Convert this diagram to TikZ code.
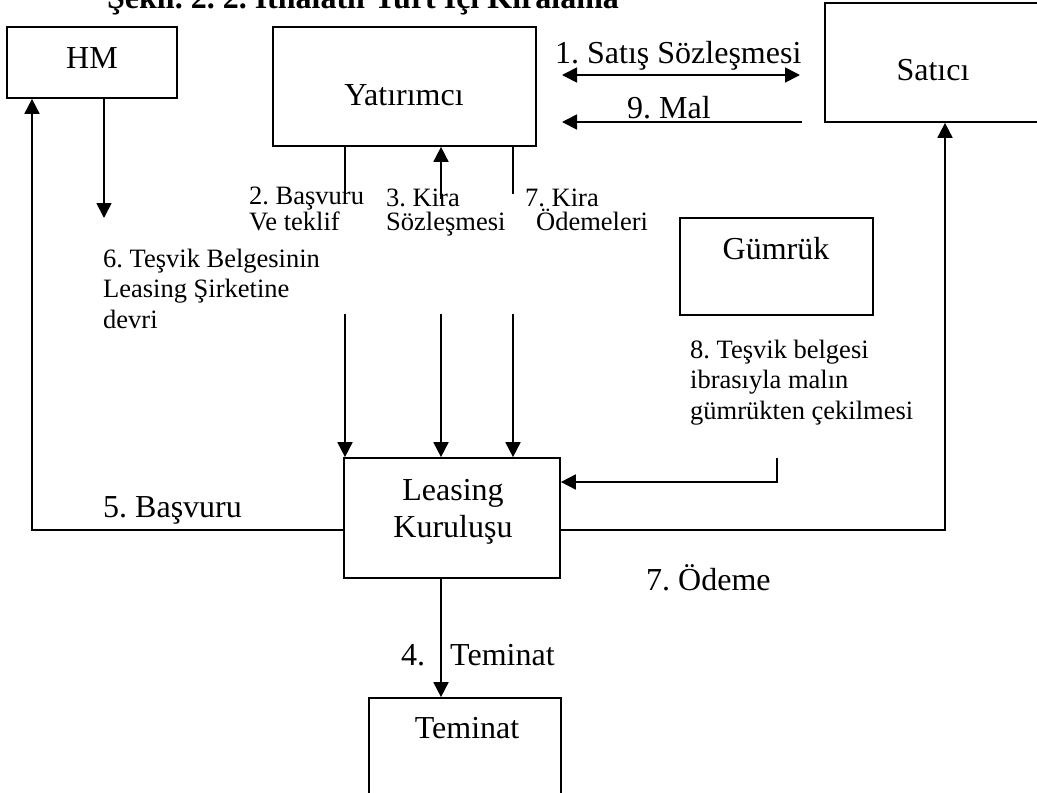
\documentclass[tikz,border=0pt]{standalone}
\usepackage{fontspec}
\setmainfont{Liberation Serif}
\frenchspacing
\usetikzlibrary{arrows.meta}
\tikzset{
  box/.style={draw, line width=1.7pt, inner sep=0pt},
  ln/.style={line width=1.7pt},
  arr/.style={line width=1.7pt, -{Triangle[length=15pt,width=15pt]}},
  dbl/.style={line width=1.7pt, {Triangle[length=15pt,width=15pt]}-{Triangle[length=15pt,width=15pt]}},
  bigtext/.style={font=\fontsize{32}{37}\selectfont, inner sep=0pt},
  smalltext/.style={font=\fontsize{26.5}{30.8}\selectfont, align=left, inner sep=0pt},
  tighttext/.style={font=\fontsize{26.5}{24}\selectfont, align=left, inner sep=0pt}
}
\begin{document}
\begin{tikzpicture}[x=1pt,y=-1pt]
\useasboundingbox (0,0) rectangle (1037,793);
\clip (0,0) rectangle (1037,793);
\node[anchor=base west, inner sep=0pt, font=\fontsize{32}{37}\selectfont\bfseries] (title) at (107,8) {Şekil. 2. 2. İthalatlı Yurt İçi Kiralama};
% boxes
\node[box, minimum width=170pt, minimum height=71pt] (hm) at (92,62.5) {};
\node[box, minimum width=263pt, minimum height=119pt] (yat) at (404.5,86.5) {};
\node[box, minimum width=220pt, minimum height=119pt] (sat) at (935,62.5) {};
\node[box, minimum width=193pt, minimum height=97pt] (gum) at (776.5,266.5) {};
\node[box, minimum width=216pt, minimum height=120pt] (lk) at (452,518) {};
\node[box, minimum width=192pt, minimum height=132pt] (tem) at (465,764) {};
\node[bigtext, anchor=base] (hmt) at (92,68) {HM};
\node[bigtext, anchor=base] (yatt) at (404,105) {Yatırımcı};
\node[bigtext, anchor=base] (satt) at (933,80) {Satıcı};
\node[bigtext, anchor=base] (gumt) at (776,259) {Gümrük};
\node[bigtext, anchor=base, align=center] (lkt) at (453,537) {Leasing\\Kuruluşu};
\node[bigtext, anchor=base] (temt) at (467,738) {Teminat};
% connectors
\coordinate (s1a) at (562,75);
\coordinate (s1b) at (800,75);
\draw[dbl] (s1a) -- (s1b);
\coordinate (m9a) at (802,122);
\coordinate (m9b) at (562,122);
\draw[arr] (m9a) -- (m9b);
\coordinate (c5) at (32,530);
\draw[arr] (lk.west |- c5) -- (c5) -- (c5 |- hm.south);
\coordinate (c6) at (104,218);
\draw[arr] (c6 |- hm.south) -- (c6);
\coordinate (c2) at (345,198);
\draw[ln] (c2 |- yat.south) -- (c2);
\coordinate (c3) at (441,199);
\draw[arr] (c3) -- (c3 |- yat.south);
\coordinate (c7) at (513,194);
\draw[ln] (c7 |- yat.south) -- (c7);
\foreach \x/\n in {345/a,441/b,513/c} {
  \coordinate (top\n) at (\x,314);
  \draw[arr] (top\n) -- (top\n |- lk.north);
}
\coordinate (c8) at (777,458);
\coordinate (c8b) at (777,482);
\draw[arr] (c8) -- (c8b) -- (c8b -| lk.east);
\coordinate (c9) at (945,530);
\draw[arr] (lk.east |- c9) -- (c9) -- (c9 |- sat.south);
\draw[arr] (lk.south -| c3) -- (tem.north -| c3);
% labels
\node[bigtext, anchor=base west] (l1) at (555,63) {1. Satış Sözleşmesi};
\node[bigtext, anchor=base west] (l9) at (627,118) {9. Mal};
\node[bigtext, anchor=base west] (l5) at (103,517) {5. Başvuru};
\node[bigtext, anchor=base west] (l7) at (646,590) {7. Ödeme};
\node[bigtext, anchor=base west] (l4) at (401,665) {4.};
\node[bigtext, anchor=base west] (l4b) at (450,665) {Teminat};
\node[tighttext, anchor=base west] (l2) at (249,230) {2. Başvuru\\Ve teklif};
\node[tighttext, anchor=base west] (l3) at (386,230) {3. Kira\\Sözleşmesi};
\node[tighttext, anchor=base west] (l7k) at (525,230) {7. Kira\\\hspace*{11pt}Ödemeleri};
\node[smalltext, anchor=base west] (l6) at (103,328.6) {6. Teşvik Belgesinin\\Leasing Şirketine\\devri};
\node[smalltext, anchor=base west] (l8) at (690,419.6) {8. Teşvik belgesi\\ibrasıyla malın\\gümrükten çekilmesi};
\end{tikzpicture}
\end{document}
